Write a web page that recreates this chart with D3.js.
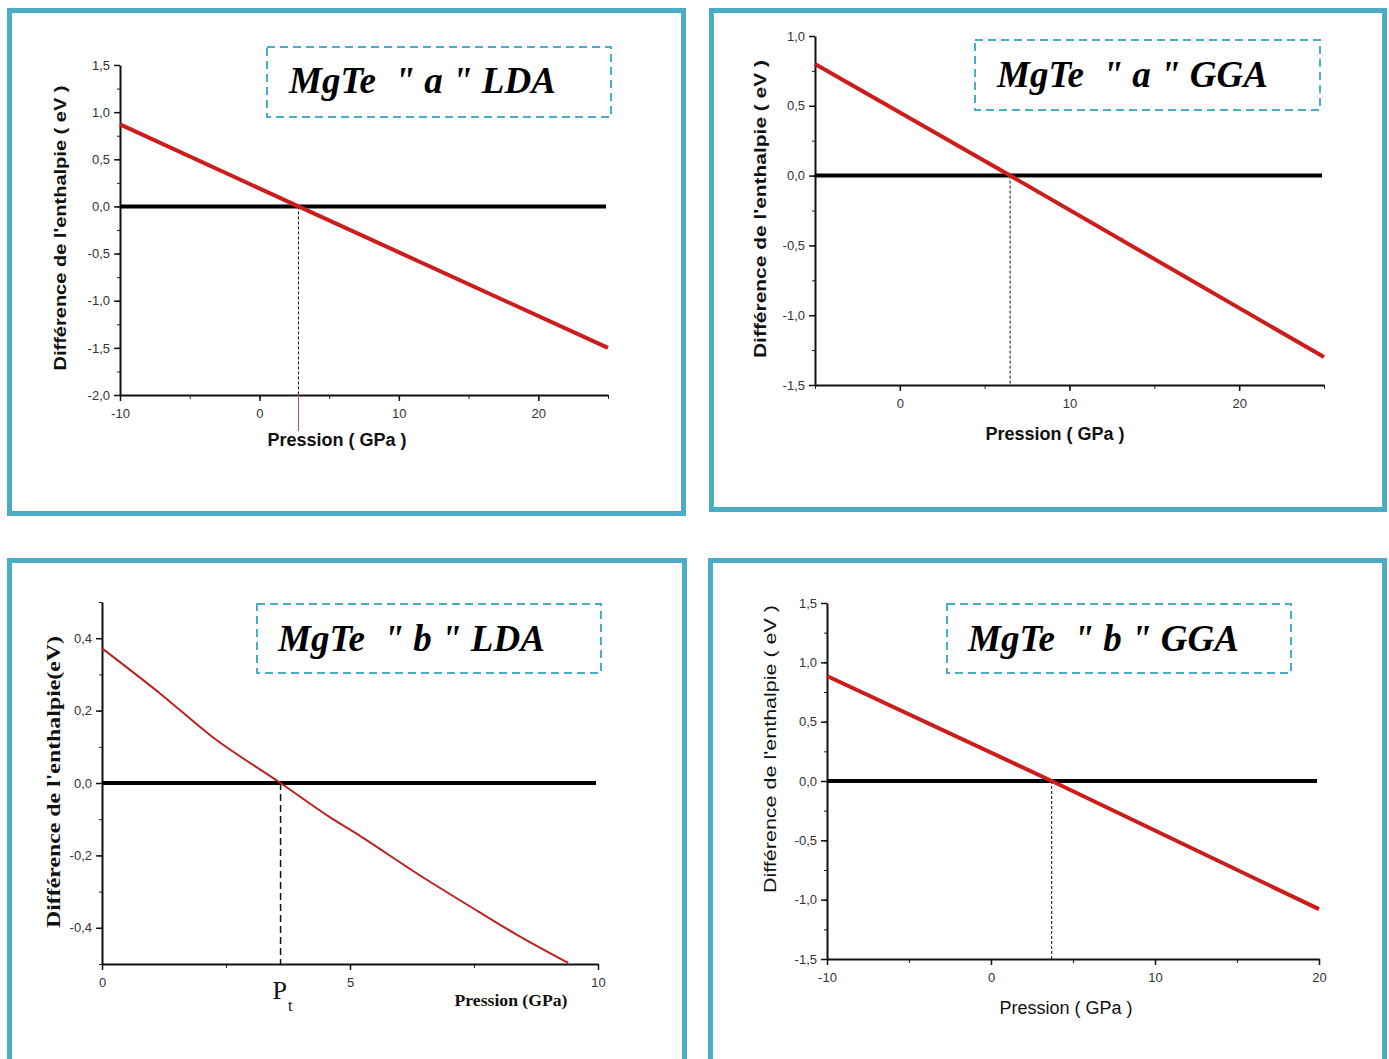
<!DOCTYPE html>
<html>
<head>
<meta charset="utf-8">
<script src="https://cdn.jsdelivr.net/npm/d3@7"></script>
<style>
  body { margin: 0; background: #fff; }
  svg { display: block; }
  .tick text { font-family: "Liberation Sans Narrow", "Liberation Sans", Arial, sans-serif; fill: #333; }
</style>
</head>
<body>
<svg id="chart" width="1389" height="1059"></svg>
<script>
// values
const aLdaLine = [[-10, 0.87], [2.8, 0], [25, -1.5]];
const aGgaLine = [[-5, 0.8], [6.5, 0], [25, -1.3]];
const bLdaLine = [[0, 0.372], [1.2, 0.244], [2.2, 0.13], [3.6, 0], [4.6, -0.095], [5.2, -0.146],
  [6.35, -0.25], [7.6, -0.356], [8.35, -0.418], [9.4, -0.497]];
const bGgaLine = [[-10, 0.885], [3.7, 0], [20, -1.08]];

const transitions = [2.8, 6.5, 3.6, 3.7];
const titles = ['MgTe  " a " LDA', 'MgTe  " a " GGA', 'MgTe  " b " LDA', 'MgTe  " b " GGA'];

const xTicks = [[-10, 0, 10, 20], [0, 10, 20], [0, 5, 10], [-10, 0, 10, 20]];
const yTicks = [[-2, -1.5, -1, -0.5, 0, 0.5, 1, 1.5], [-1.5, -1, -0.5, 0, 0.5, 1], [-0.4, -0.2, 0, 0.2, 0.4], [-1.5, -1, -0.5, 0, 0.5, 1, 1.5]];

const teal = "#4aacc5";
const red = "#cc1c1c";
const svg = d3.select("#chart");
const comma = (d, f) => d3.format(f)(d).replace(".", ",").replace("−", "-");

const panels = [
  { frame: [9.5, 10.5, 674, 503], rect: [120, 65, 608, 395], xd: [-10, 25], yd: [-2, 1.5],
    xMinor: 5, yMinor: 0.25, yFmt: ".1f", line: aLdaLine, lw: 4, color: red,
    box: [267, 47, 344, 70], titleX: 289, titleY: 93,
    yLab: "Différence de l'enthalpie ( eV )", yLabX: 66, yLabC: 228, yLabLen: 285, bold: true, xLabY: 446, xLabX: 337, redTick: true },
  { frame: [711.5, 10.5, 673, 499], rect: [815, 36, 1324, 385], xd: [-5, 25], yd: [-1.5, 1],
    xMinor: 5, yMinor: 0.25, yFmt: ".1f", line: aGgaLine, lw: 4, color: red,
    box: [975, 40, 345, 70], titleX: 997, titleY: 87,
    yLab: "Différence de l'enthalpie ( eV )", yLabX: 766, yLabC: 209, yLabLen: 298, bold: true, xLabY: 440, xLabX: 1055 },
  { frame: [9.5, 560.5, 675, 520], rect: [102, 602, 598, 964], xd: [0, 10], yd: [-0.5, 0.5],
    xMinor: 2.5, yMinor: 0.1, yFmt: ".1f", line: bLdaLine, lw: 2, color: "#bb2222", smooth: true,
    box: [257, 604, 344, 69], titleX: 278, titleY: 651,
    yLab: "Différence de l'enthalpie(eV)", yLabX: 60, yLabC: 782, yLabLen: 292, serif: true, xLabY: 1006, xLabX: 511, pt: true },
  { frame: [710.5, 560.5, 674, 520], rect: [827, 603, 1319, 959], xd: [-10, 20], yd: [-1.5, 1.5],
    xMinor: 5, yMinor: 0.25, yFmt: ".1f", line: bGgaLine, lw: 4, color: red,
    box: [947, 604, 344, 69], titleX: 968, titleY: 651,
    yLab: "Différence de l'enthalpie ( eV )", yLabX: 776, yLabC: 749, yLabLen: 288, bold: false, xLabY: 1014, xLabX: 1066 },
];

panels.forEach((p, i) => {
  const g = svg.append("g");
  g.append("rect")
    .attr("x", p.frame[0]).attr("y", p.frame[1])
    .attr("width", p.frame[2]).attr("height", p.frame[3])
    .attr("fill", "#fff").attr("stroke", teal).attr("stroke-width", 5);

  const [x0, y0, x1, y1] = p.rect;
  const x = d3.scaleLinear().domain(p.xd).range([x0, x1]);
  const y = d3.scaleLinear().domain(p.yd).range([y1, y0]);

  // minor ticks
  const xm = d3.range(p.xd[0], p.xd[1] + 1e-9, p.xMinor);
  const ym = d3.range(p.yd[0], p.yd[1] + 1e-9, p.yMinor);
  g.append("g").attr("transform", `translate(0,${y1})`)
    .call(d3.axisBottom(x).tickValues(xm).tickSize(4).tickFormat(""))
    .call((a) => a.select(".domain").remove())
    .selectAll("line").attr("stroke", "#222");
  g.append("g").attr("transform", `translate(${x0},0)`)
    .call(d3.axisLeft(y).tickValues(ym).tickSize(3).tickFormat(""))
    .call((a) => a.select(".domain").remove())
    .selectAll("line").attr("stroke", "#222");

  const gx = g.append("g").attr("transform", `translate(0,${y1})`)
    .call(d3.axisBottom(x).tickValues(xTicks[i]).tickSizeInner(6).tickSizeOuter(0).tickPadding(8).tickFormat((d) => d3.format("d")(d).replace("−", "-")));
  gx.select(".domain").attr("stroke", "#111").attr("stroke-width", 2);
  gx.selectAll("line").attr("stroke", "#111").attr("stroke-width", 1.5);
  gx.selectAll("text").attr("font-size", 13);

  const gy = g.append("g").attr("transform", `translate(${x0},0)`)
    .call(d3.axisLeft(y).tickValues(yTicks[i]).tickSizeInner(6).tickSizeOuter(0).tickPadding(4).tickFormat((d) => comma(d, p.yFmt)));
  gy.select(".domain").attr("stroke", "#111").attr("stroke-width", 2);
  gy.selectAll("line").attr("stroke", "#111").attr("stroke-width", 1.5);
  gy.selectAll("text").attr("font-size", 13);

  // zero reference line
  g.append("line")
    .attr("x1", x0).attr("x2", x1 - 2).attr("y1", y(0)).attr("y2", y(0))
    .attr("stroke", "#000").attr("stroke-width", 4);

  // transition pressure dashed line
  g.append("line")
    .attr("x1", x(transitions[i])).attr("x2", x(transitions[i]))
    .attr("y1", y(0)).attr("y2", y1)
    .attr("stroke", "#111").attr("stroke-width", p.pt ? 1.5 : 1)
    .attr("stroke-dasharray", p.pt ? "7,4" : "3,2");
  if (p.redTick) {
    g.append("line")
      .attr("x1", x(transitions[i])).attr("x2", x(transitions[i]))
      .attr("y1", y1).attr("y2", y1 + 36)
      .attr("stroke", "#c05050").attr("stroke-width", 1);
  }

  // enthalpy difference curve
  g.append("path")
    .datum(p.line)
    .attr("fill", "none").attr("stroke", p.color).attr("stroke-width", p.lw)
    .attr("stroke-linejoin", "round")
    .attr("d", d3.line().curve(p.smooth ? d3.curveMonotoneX : d3.curveLinear)
      .x((d) => x(d[0])).y((d) => y(d[1])));

  // axis titles
  const yl = g.append("text")
    .attr("transform", `translate(${p.yLabX},${p.yLabC}) rotate(-90)`)
    .attr("text-anchor", "middle")
    .attr("fill", "#111")
    .attr("textLength", p.yLabLen).attr("lengthAdjust", "spacingAndGlyphs")
    .text(p.yLab);
  if (p.serif) {
    yl.attr("font-family", "Liberation Serif, serif").attr("font-weight", "bold").attr("font-size", 19);
  } else {
    yl.attr("font-family", "Liberation Sans, Arial, sans-serif")
      .attr("font-weight", p.bold ? "bold" : "normal").attr("font-size", 17);
  }

  const xl = g.append("text")
    .attr("x", p.xLabX).attr("y", p.xLabY)
    .attr("text-anchor", "middle").attr("fill", "#111")
    .text(p.serif ? "Pression (GPa)" : "Pression ( GPa )");
  if (p.serif) {
    xl.attr("font-family", "Liberation Serif, serif").attr("font-weight", "bold").attr("font-size", 17)
      .attr("textLength", 113).attr("lengthAdjust", "spacingAndGlyphs");
  } else {
    xl.attr("font-family", "Liberation Sans Narrow, Liberation Sans, sans-serif")
      .attr("font-weight", p.bold ? "bold" : "normal").attr("font-size", 18);
  }

  if (p.pt) {
    const t = g.append("text")
      .attr("x", x(transitions[i]) - 8).attr("y", 999)
      .attr("font-family", "Liberation Serif, serif").attr("font-size", 26).attr("fill", "#111");
    t.append("tspan").text("P");
    t.append("tspan").attr("font-size", 16).attr("dy", 12).attr("dx", 1).text("t");
  }

  // title box
  g.append("rect")
    .attr("x", p.box[0]).attr("y", p.box[1]).attr("width", p.box[2]).attr("height", p.box[3])
    .attr("fill", "none").attr("stroke", teal).attr("stroke-width", 2)
    .attr("stroke-dasharray", "8,5");
  g.append("text")
    .attr("x", p.titleX).attr("y", p.titleY)
    .attr("font-family", "Liberation Serif, 'Times New Roman', serif")
    .attr("font-style", "italic").attr("font-weight", "bold")
    .attr("font-size", 37).attr("fill", "#000")
    .style("white-space", "pre")
    .text(titles[i]);
});
</script>
</body>
</html>
